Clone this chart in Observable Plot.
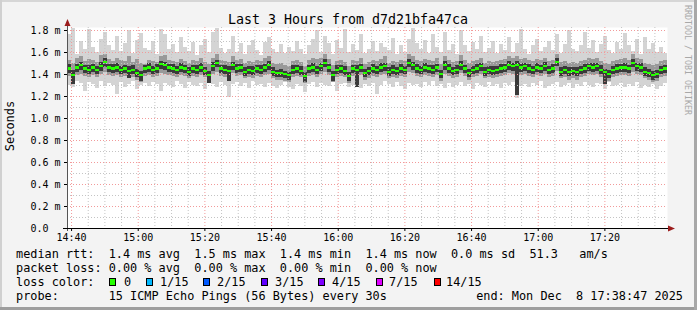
<!DOCTYPE html>
<html><head><meta charset="utf-8">
<script src="https://cdn.jsdelivr.net/npm/d3@7"></script>
<script src="https://cdn.jsdelivr.net/npm/@observablehq/plot@0.6"></script>
<style>html,body{margin:0;padding:0;background:#f3f3f3;} svg{display:block}</style>
</head><body><div id="chart"></div>
<script>
// values in 0.01 ms, one per 72 s step (150 steps = 3 hours)
const median=[145,139,146,148,145,144,146,144,147,151,146,145,146,144,145,143,144,141,139,145,146,144,145,149,148,146,145,144,146,145,142,145,144,146,143,139,147,150,145,144,143,148,145,146,142,144,143,145,144,146,148,142,141,141,140,139,144,145,143,138,145,146,144,147,150,146,139,144,145,143,138,145,144,146,141,143,145,144,146,147,142,144,143,145,144,150,148,145,144,146,145,144,146,140,148,145,143,144,148,145,141,144,145,147,142,144,143,144,145,146,148,147,148,146,147,145,144,146,145,147,144,145,151,142,144,142,143,142,144,145,147,146,147,144,142,140,144,145,146,146,145,150,147,146,142,141,139,140,144,145];
const pingMax=[176,182,158,170,163,181,165,160,172,178,166,162,175,161,168,180,159,171,177,164,162,170,158,181,176,163,167,160,174,165,161,169,157,166,172,160,178,182,164,159,163,175,160,168,158,166,171,162,157,169,174,163,160,167,159,165,161,170,163,158,166,172,180,160,175,168,158,171,164,181,160,167,162,176,159,163,170,161,168,165,162,173,158,166,160,172,182,168,163,171,159,176,165,160,178,162,167,158,180,166,161,169,163,175,160,164,170,159,167,162,174,160,168,181,163,158,166,172,161,165,170,162,176,159,167,180,163,161,166,178,164,171,160,167,175,162,159,169,163,177,166,161,172,158,174,163,168,160,165,159];
const pingMin=[130,128,134,132,125,133,131,127,134,129,132,130,122,133,128,131,134,126,130,132,129,133,131,125,132,130,128,134,131,127,133,130,129,132,126,134,131,128,133,130,119,131,133,129,132,127,134,130,131,128,132,129,127,130,133,128,126,131,129,124,131,133,128,132,130,129,134,125,131,132,128,130,133,127,131,129,132,122,130,134,131,128,133,129,126,132,130,131,128,133,130,134,129,131,127,132,128,130,133,129,131,126,132,130,128,133,129,131,127,132,130,133,118,129,131,128,132,130,134,127,129,131,133,128,130,132,127,131,129,133,130,128,132,131,126,133,129,130,132,128,131,129,133,127,130,128,131,126,129,132];
const midHi=[153,150,155,156,152,154,153,151,157,158,154,152,155,153,152,156,151,154,150,149,153,152,151,156,157,153,152,151,154,152,150,153,152,155,151,149,155,158,153,152,151,156,153,154,150,152,151,153,152,155,156,150,149,150,148,147,152,153,151,147,153,155,154,155,158,154,148,152,153,151,147,153,152,155,149,151,153,152,154,156,150,152,151,153,152,158,156,153,152,154,153,152,155,149,156,153,151,152,157,153,150,152,153,155,150,152,151,152,153,154,156,155,156,154,155,153,152,154,153,155,152,153,158,151,152,150,151,150,152,153,155,154,155,152,150,149,152,153,154,155,153,158,155,154,150,149,148,149,152,153];
const midLo=[138,133,139,140,138,137,139,137,140,142,139,138,139,137,138,136,137,135,133,138,139,137,138,141,140,139,138,137,139,138,136,138,137,139,137,133,140,142,138,137,136,141,138,139,136,137,136,138,137,139,140,136,135,135,134,133,137,138,137,132,138,139,137,140,142,139,133,137,138,137,132,138,137,139,135,136,138,137,139,140,136,137,136,138,137,142,141,138,137,139,138,137,139,134,140,138,136,137,141,138,135,137,138,140,136,137,136,137,138,139,141,140,141,139,140,138,137,139,138,140,137,138,143,136,137,135,136,135,137,138,140,139,140,137,135,134,137,138,139,139,138,142,140,139,136,135,133,134,137,138];
const coreHi=[149,144,149,151,148,148,149,147,151,155,149,149,150,147,148,147,148,145,143,148,150,147,149,152,151,149,149,147,150,148,146,148,148,150,146,143,151,153,148,148,147,151,149,149,146,147,147,148,148,149,152,146,144,145,143,142,148,148,147,142,148,150,147,150,154,149,143,148,148,147,142,148,148,149,145,146,149,147,150,150,146,148,146,149,147,154,151,149,147,150,148,148,149,144,152,149,146,148,152,148,145,147,149,150,146,147,147,147,149,149,152,150,152,150,150,149,147,150,148,151,147,149,155,146,147,146,146,146,147,149,150,150,150,148,145,144,147,149,149,150,148,154,150,150,146,145,143,144,147,148];
const coreLo=[141,131,142,144,141,140,142,140,143,146,142,141,142,140,141,136,140,137,134,141,142,140,141,145,144,142,141,140,142,141,138,141,140,142,139,132,143,146,141,140,134,144,141,142,138,140,139,141,140,142,144,138,137,137,136,135,140,141,139,133,141,142,140,143,146,142,134,140,141,139,134,141,128,142,137,139,141,140,142,143,138,140,139,141,140,146,144,141,140,142,141,140,142,136,144,141,139,140,144,141,137,140,141,143,138,140,139,140,141,142,144,143,121,142,143,141,140,142,141,143,140,141,147,138,140,138,139,138,140,141,143,142,143,140,131,136,140,141,142,142,141,146,143,142,138,137,135,136,140,141];
const xTickLabels=["14:40","15:00","15:20","15:40","16:00","16:20","16:40","17:00","17:20"];
const yTicks=[0,0.2,0.4,0.6,0.8,1.0,1.2,1.4,1.6,1.8];
const yMinor=[0.1,0.3,0.5,0.7,0.9,1.1,1.3,1.5,1.7];
const lossColors=[["0","#26ff00"],["1/15","#00b8ff"],["2/15","#0059ff"],["3/15","#5e00ff"],["4/15","#7e00ff"],["7/15","#dd00ff"],["14/15","#ff0000"]];
const legendLines=[
 "median rtt:  1.4 ms avg  1.5 ms max  1.4 ms min  1.4 ms now  0.0 ms sd  51.3   am/s",
 "packet loss: 0.00 % avg  0.00 % max  0.00 % min  0.00 % now",
 "loss color:",
 "probe:       15 ICMP Echo Pings (56 Bytes) every 30s"
];
const endLabel="end: Mon Dec  8 17:38:47 2025";
const title="Last 3 Hours from d7d21bfa47ca";

const startTime=new Date(2025,11,8,14,38,47);
const stepMs=72000;
const endTime=new Date(+startTime+median.length*stepMs);
const rows=median.map((m,i)=>({
  t0:new Date(+startTime+i*stepMs), t1:new Date(+startTime+(i+1)*stepMs),
  med:m/100, max:pingMax[i]/100, min:pingMin[i]/100,
  mhi:midHi[i]/100, mlo:midLo[i]/100, chi:coreHi[i]/100, clo:coreLo[i]/100
}));
const majorX=xTickLabels.map(s=>{const [h,mm]=s.split(":").map(Number);return new Date(2025,11,8,h,mm,0);});
const minorX=d3.timeMinute.every(5).range(majorX[0],endTime);
const mono="DejaVu Sans Mono";
const bw=0.01;

const plot=Plot.plot({
  width:697,height:310,
  marginLeft:67,marginRight:30,marginTop:27,marginBottom:82,
  style:{fontFamily:mono,fontSize:"10px",background:"#f3f3f3",color:"black",overflow:"visible"},
  x:{type:"time",domain:[startTime,endTime],ticks:majorX,tickFormat:d3.timeFormat("%H:%M"),tickSize:3,tickPadding:2,label:null},
  y:{domain:[0,201/110],ticks:yTicks,tickFormat:d=>d===0?"0.0\u00a0\u00a0":d.toFixed(1)+" m",tickSize:3,tickPadding:4,label:null},
  marks:[
    Plot.frame({fill:"white",stroke:null}),
    Plot.rect(rows,{x1:"t0",x2:"t1",y1:"min",y2:"max",fill:"#d4d4d4",shapeRendering:"crispEdges"}),
    Plot.rect(rows,{x1:"t0",x2:"t1",y1:"mlo",y2:"mhi",fill:"#999999",shapeRendering:"crispEdges"}),
    Plot.rect(rows,{x1:"t0",x2:"t1",y1:"clo",y2:"chi",fill:"#3a3a3a",shapeRendering:"crispEdges"}),
    Plot.ruleY(yMinor,{stroke:"#c4c4c4",strokeDasharray:"1,2"}),
    Plot.ruleX(minorX.filter(d=>d.getMinutes()%20!==0),{stroke:"#c4c4c4",strokeDasharray:"1,2"}),
    Plot.ruleY(yTicks.slice(1),{stroke:"#f29a9a",strokeDasharray:"1,2"}),
    Plot.ruleX(majorX,{stroke:"#f29a9a",strokeDasharray:"1,2"}),
    Plot.rect(rows,{x1:"t0",x2:"t1",y1:d=>d.med-bw,y2:d=>d.med+bw,fill:"#26ff00",shapeRendering:"crispEdges"})
  ]
});
document.getElementById("chart").appendChild(plot);

const svg=d3.select(plot);
const xs=plot.scale("x"), ys=plot.scale("y");
const x0=xs.apply(startTime), x1=xs.apply(endTime), y0=ys.apply(0);
// axes
svg.append("line").attr("x1",x0+0.5).attr("x2",x0+0.5).attr("y1",y0+3).attr("y2",22).attr("stroke","#555");
svg.append("line").attr("x1",x0-4).attr("x2",x1+5).attr("y1",y0+0.5).attr("y2",y0+0.5).attr("stroke","black");
svg.append("path").attr("d",`M${x0+0.5},19 L${x0-2.5},26 L${x0+3.5},26 Z`).attr("fill","#9b1c1c");
svg.append("path").attr("d",`M${x1+8},${y0+0.5} L${x1+1},${y0-2.5} L${x1+1},${y0+3.5} Z`).attr("fill","#9b1c1c");
// borders
svg.append("rect").attr("x",0).attr("y",0).attr("width",697).attr("height",2).attr("fill","#d6d6d6");
svg.append("rect").attr("x",0).attr("y",0).attr("width",2).attr("height",310).attr("fill","#d0d0d0");
svg.append("rect").attr("x",0).attr("y",307).attr("width",697).attr("height",3).attr("fill","#9e9e9e");
svg.append("rect").attr("x",694).attr("y",0).attr("width",3).attr("height",310).attr("fill","#a8a8a8");
// title and labels
const T=(sel)=>sel.attr("font-family",mono).attr("fill","black").attr("text-anchor","start");
svg.append("text").call(T).attr("x",348).attr("y",24).attr("text-anchor","middle").attr("font-size",13.3).text(title);
svg.append("text").call(T).attr("transform","translate(14,126) rotate(-90)").attr("text-anchor","middle").attr("font-size",12).text("Seconds");
svg.append("text").call(T).attr("transform","translate(685,5) rotate(90)").attr("font-size",8.3).attr("fill","#a8a8a8").text("RRDTOOL / TOBI OETIKER");
// legend
const lg=svg.append("g").attr("font-family",mono).attr("font-size",11.85).attr("fill","black").attr("text-anchor","start").style("white-space","pre");
const baselines=[258,272,286,299.5];
legendLines.forEach((s,i)=>lg.append("text").attr("text-anchor","start").attr("x",16).attr("y",baselines[i]).attr("xml:space","preserve").text(s));
const sqX=[109,146,203,261,318,376,434], txX=[124,160,217,275,332,389,446];
lossColors.forEach(([lab,c],i)=>{
  lg.append("rect").attr("x",sqX[i]+0.5).attr("y",278.5).attr("width",6).attr("height",7).attr("fill",c).attr("stroke","black");
  lg.append("text").attr("text-anchor","start").attr("x",txX[i]).attr("y",286).text(lab);
});
lg.append("text").attr("x",683).attr("y",299.5).attr("text-anchor","end").attr("xml:space","preserve").text(endLabel);
</script></body></html>
